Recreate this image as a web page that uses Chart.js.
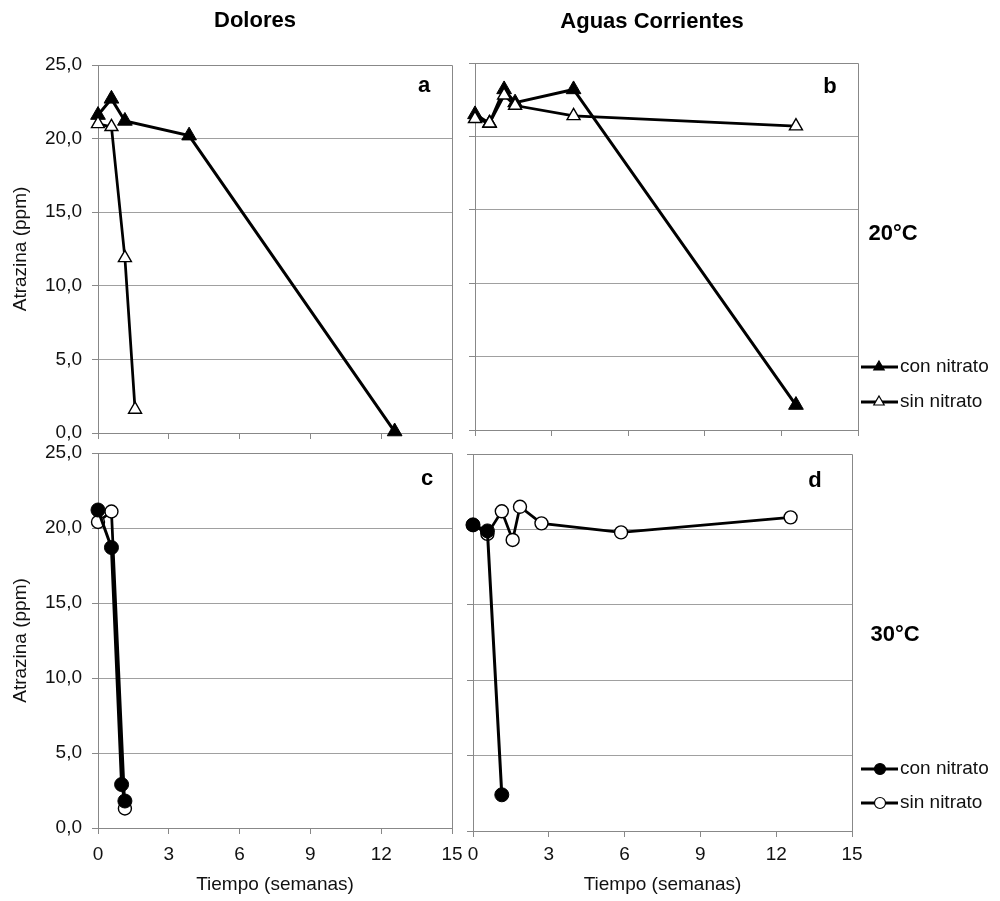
<!DOCTYPE html>
<html><head><meta charset="utf-8">
<script src="https://cdn.jsdelivr.net/npm/chart.js@4.4.1/dist/chart.umd.min.js"></script>
<style>
html,body{margin:0;padding:0;background:#fff;}
#wrap{position:relative;width:1000px;height:901px;overflow:hidden;background:#fff}
canvas{position:absolute;left:0;top:0}
</style></head><body><div id="wrap">
<canvas id="pa" width="1000" height="901"></canvas>
<canvas id="pb" width="1000" height="901"></canvas>
<canvas id="pc" width="1000" height="901"></canvas>
<canvas id="pd" width="1000" height="901"></canvas>
</div>
<script>
// ---- data (x in weeks, y in ppm) ----
const seriesNames = ['con nitrato', 'sin nitrato'];
const columnTitles = ['Dolores', 'Aguas Corrientes'];
const rowTitles = ['20°C', '30°C'];
const panelLetters = ['a', 'b', 'c', 'd'];
const xTickValues = [0, 3, 6, 9, 12, 15];
const xTickLabels = ['0', '3', '6', '9', '12', '15'];
const yTickValues = [0, 5, 10, 15, 20, 25];
const yTickLabels = ['0,0', '5,0', '10,0', '15,0', '20,0', '25,0'];
const yTitle = 'Atrazina (ppm)';
const xTitle = 'Tiempo (semanas)';

const doloresCon20X = [0, 0.57, 1.14, 3.86, 12.57];
const doloresCon20Y = [21.6, 22.7, 21.2, 20.2, 0.1];
const doloresSin20X = [0, 0.57, 1.14, 1.57];
const doloresSin20Y = [21.0, 20.8, 11.9, 1.6];

const aguasCon20X = [0, 0.57, 1.14, 1.57, 3.86, 12.57];
const aguasCon20Y = [21.5, 20.9, 23.2, 22.3, 23.2, 1.7];
const aguasSin20X = [0, 0.57, 1.14, 1.57, 3.86, 12.57];
const aguasSin20Y = [21.2, 20.9, 22.8, 22.1, 21.4, 20.7];

const doloresCon30X = [0, 0.57, 1.0, 1.14];
const doloresCon30Y = [21.2, 18.7, 2.9, 1.8];
const doloresSin30X = [0, 0.57, 1.14];
const doloresSin30Y = [20.4, 21.1, 1.3];

const aguasCon30X = [0, 0.57, 1.14];
const aguasCon30Y = [20.3, 19.9, 2.4];
const aguasSin30X = [0, 0.57, 1.14, 1.57, 1.86, 2.71, 5.86, 12.57];
const aguasSin30Y = [20.3, 19.7, 21.2, 19.3, 21.5, 20.4, 19.8, 20.8];

// ---- styling ----
const FONT = "'Liberation Sans', Arial, Helvetica, sans-serif";
const GRID = '#a0a0a0';
const AXIS = '#888888';
const TXT = '#111';

function pts(xs, ys) { return xs.map((x, i) => ({x: x, y: ys[i]})); }

function ds(label, xs, ys, style, filled, order) {
  const tri = style === 'triangle';
  return {
    label: label,
    data: pts(xs, ys),
    borderColor: '#000',
    borderWidth: filled ? 3 : 2.75,
    pointStyle: style,
    pointRadius: tri ? (filled ? 8.5 : 7.5) : (filled ? 7 : 6.5),
    pointBackgroundColor: filled ? '#000' : '#fff',
    pointBorderColor: '#000',
    pointBorderWidth: filled ? 1 : 1.4,
    pointHoverRadius: 7,
    tension: 0,
    fill: false,
    clip: false,
    order: order
  };
}

const framePlugin = {
  id: 'frame',
  beforeDatasetsDraw(chart) {
    const a = chart.chartArea, ctx = chart.ctx;
    ctx.save();
    ctx.strokeStyle = AXIS; ctx.lineWidth = 1;
    ctx.beginPath();
    ctx.moveTo(Math.round(a.right) + 0.5, Math.round(a.top) + 0.5);
    ctx.lineTo(Math.round(a.right) + 0.5, Math.round(a.bottom) + 0.5);
    ctx.moveTo(Math.round(a.left) + 0.5, Math.round(a.top) + 0.5);
    ctx.lineTo(Math.round(a.right) + 0.5, Math.round(a.top) + 0.5);
    ctx.stroke();
    ctx.restore();
  }
};

const textPlugin = {
  id: 'extraText',
  afterDraw(chart, args, opts) {
    const ctx = chart.ctx;
    (opts.items || []).forEach(t => {
      ctx.save();
      ctx.font = t.font; ctx.fillStyle = '#000';
      ctx.textAlign = t.align || 'center'; ctx.textBaseline = 'alphabetic';
      ctx.fillText(t.text, t.x, t.y);
      ctx.restore();
    });
  }
};

function marker(ctx, style, x, y, r) {
  ctx.beginPath();
  if (style === 'triangle') {
    ctx.moveTo(x, y - r);
    ctx.lineTo(x + r * 0.866, y + r * 0.5);
    ctx.lineTo(x - r * 0.866, y + r * 0.5);
    ctx.closePath();
  } else {
    ctx.arc(x, y, r, 0, Math.PI * 2);
  }
  ctx.fill(); ctx.stroke();
}

const legendPlugin = {
  id: 'sideLegend',
  afterDraw(chart, args, opts) {
    if (!opts.items) return;
    const ctx = chart.ctx;
    opts.items.forEach(it => {
      const d = chart.data.datasets.find(s => s.label === it.label);
      ctx.save();
      ctx.strokeStyle = '#000'; ctx.lineWidth = 3;
      ctx.beginPath(); ctx.moveTo(opts.x0, it.y); ctx.lineTo(opts.x1, it.y); ctx.stroke();
      ctx.fillStyle = d.pointBackgroundColor; ctx.strokeStyle = '#000'; ctx.lineWidth = 1.2;
      marker(ctx, d.pointStyle, opts.xm, it.y, opts.r);
      ctx.font = '19px ' + FONT; ctx.fillStyle = TXT;
      ctx.textAlign = 'left'; ctx.textBaseline = 'middle';
      ctx.fillText(it.label, opts.xt, it.y);
      ctx.restore();
    });
  }
};

function labelFor(values, labels) {
  return v => { const i = values.indexOf(Math.round(v * 100) / 100); return i >= 0 ? labels[i] : ''; };
}

function makePanel(id, p) {
  const yScale = {
    type: 'linear', min: 0, max: 25,
    afterFit: s => { s.width = p.yW; },
    afterBuildTicks: s => { s.ticks = yTickValues.map(v => ({value: v})); },
    ticks: {
      display: p.showY, padding: 10, color: TXT,
      font: {family: FONT, size: 19},
      callback: labelFor(yTickValues, yTickLabels)
    },
    grid: {color: GRID, lineWidth: 1, drawTicks: true, tickLength: 6, tickColor: AXIS},
    border: {display: true, color: AXIS, width: 1},
    title: {display: p.showY, text: yTitle, color: TXT, font: {family: FONT, size: 19}, padding: {top: 9, bottom: 0}}
  };
  const xScale = {
    type: 'linear', min: 0, max: 15,
    afterFit: s => { s.height = p.xH; },
    afterBuildTicks: s => { s.ticks = xTickValues.map(v => ({value: v})); },
    ticks: {
      display: p.showX, padding: p.xPad || 8, color: TXT, maxRotation: 0,
      font: {family: FONT, size: 19},
      callback: labelFor(xTickValues, xTickLabels)
    },
    grid: {display: true, drawOnChartArea: false, drawTicks: true, tickLength: 6, color: AXIS},
    border: {display: true, color: AXIS, width: 1},
    title: {display: p.showX, text: xTitle, color: TXT, font: {family: FONT, size: 19}, padding: {top: 0, bottom: 4.5}}
  };
  return new Chart(document.getElementById(id), {
    type: 'line',
    data: {datasets: p.datasets},
    options: {
      responsive: false, animation: false, devicePixelRatio: 1,
      layout: {padding: p.pad},
      scales: {x: xScale, y: yScale},
      plugins: {
        legend: {display: false}, tooltip: {enabled: false},
        extraText: {items: p.texts || []},
        sideLegend: p.legend || {}
      },
      events: []
    },
    plugins: [framePlugin, textPlugin, legendPlugin]
  });
}

const BOLD = 'bold 22px ' + FONT;

// Panel a: chart area 98..452, 65..433
makePanel('pa', {
  yW: 98, xH: 20, showY: true, showX: false,
  pad: {left: 0, top: 65, right: 548, bottom: 901 - 433 - 20},
  datasets: [
    ds(seriesNames[0], doloresCon20X, doloresCon20Y, 'triangle', true, 1),
    ds(seriesNames[1], doloresSin20X, doloresSin20Y, 'triangle', false, 0)
  ],
  texts: [
    {text: columnTitles[0], x: 255, y: 27, font: BOLD},
    {text: panelLetters[0], x: 424, y: 92, font: BOLD}
  ]
});

// Panel b: chart area 475..858, 63..430
makePanel('pb', {
  yW: 15, xH: 20, showY: false, showX: false,
  pad: {left: 460, top: 63, right: 1000 - 858, bottom: 901 - 430 - 20},
  datasets: [
    ds(seriesNames[0], aguasCon20X, aguasCon20Y, 'triangle', true, 1),
    ds(seriesNames[1], aguasSin20X, aguasSin20Y, 'triangle', false, 0)
  ],
  texts: [
    {text: columnTitles[1], x: 652, y: 28, font: BOLD},
    {text: panelLetters[1], x: 830, y: 93, font: BOLD},
    {text: rowTitles[0], x: 893, y: 240, font: BOLD}
  ],
  legend: {x0: 861, x1: 898, xm: 879, xt: 900, r: 6,
    items: [{label: seriesNames[0], y: 367}, {label: seriesNames[1], y: 402}]}
});

// Panel c: chart area 98..452, 453..828
makePanel('pc', {
  yW: 98, xH: 901 - 828, showY: true, showX: true, xPad: 9.5,
  pad: {left: 0, top: 453, right: 548, bottom: 0},
  datasets: [
    ds(seriesNames[0], doloresCon30X, doloresCon30Y, 'circle', true, 0),
    ds(seriesNames[1], doloresSin30X, doloresSin30Y, 'circle', false, 1)
  ],
  texts: [
    {text: panelLetters[2], x: 427, y: 485, font: BOLD}
  ]
});

// Panel d: chart area 473..852, 454..831
makePanel('pd', {
  yW: 13, xH: 901 - 831, showY: false, showX: true, xPad: 6.5,
  pad: {left: 460, top: 454, right: 1000 - 852, bottom: 0},
  datasets: [
    ds(seriesNames[0], aguasCon30X, aguasCon30Y, 'circle', true, 0),
    ds(seriesNames[1], aguasSin30X, aguasSin30Y, 'circle', false, 1)
  ],
  texts: [
    {text: panelLetters[3], x: 815, y: 487, font: BOLD},
    {text: rowTitles[1], x: 895, y: 641, font: BOLD}
  ],
  legend: {x0: 861, x1: 898, xm: 880, xt: 900, r: 5.5,
    items: [{label: seriesNames[0], y: 769}, {label: seriesNames[1], y: 803}]}
});
</script>
</body></html>
